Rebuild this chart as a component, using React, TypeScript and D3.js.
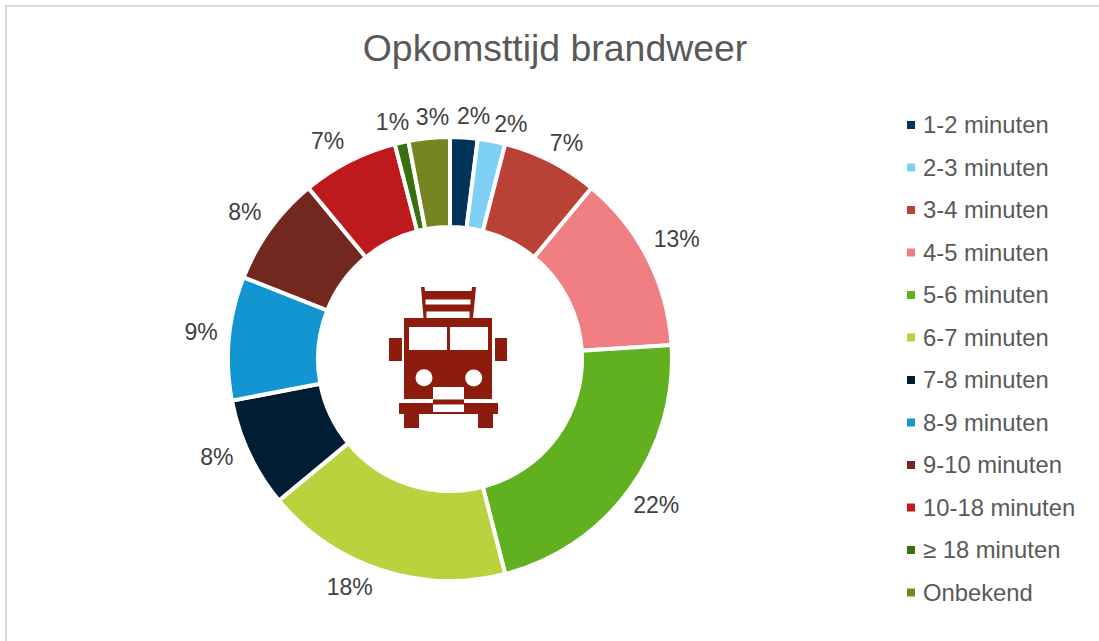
import React from "react";
import * as d3 from "d3";

const title = "Opkomsttijd brandweer";
const categories = ["1-2 minuten","2-3 minuten","3-4 minuten","4-5 minuten","5-6 minuten","6-7 minuten","7-8 minuten","8-9 minuten","9-10 minuten","10-18 minuten","≥ 18 minuten","Onbekend"];
const values = [2,2,7,13,22,18,8,9,8,7,1,3];
const colors = ["#00345A","#7FD0F5","#BA4135","#EF7F83","#60B01F","#BAD23E","#001E33","#1295D0","#72271F","#BE1A1E","#39700F","#768520"];
const labelNudgeX = [8,14,3,4,4,-23,-7,0,-3,-9,-3,6];
const labelNudgeY = [6,11,7,-7,-1,-10,-8,-4,0,5,7,7];

const CX = 450, CY = 359, R = 222, r0 = 132, LR = 250;
const TRUCK = "#8E1C0E";

function Truck() {
  return (
    <g fill={TRUCK}>
      <path d="M421 287L424.5 287L425 291L471.5 291L472 287L476 287L473 318L423.5 318Z" />
      <rect x={425.5} y={299.5} width={45} height={5} fill="#fff" />
      <rect x={426.5} y={311.5} width={43} height={6.5} fill="#fff" />
      <rect x={404} y={318} width={88} height={81} />
      <rect x={409} y={327} width={38} height={23} fill="#fff" />
      <rect x={450} y={327} width={38} height={23} fill="#fff" />
      <rect x={389} y={338} width={13} height={23} />
      <rect x={495} y={338} width={12} height={23} />
      <circle cx={424} cy={377.7} r={8.5} fill="#fff" />
      <circle cx={473.7} cy={378} r={8.5} fill="#fff" />
      <rect x={433} y={387} width={31} height={12.5} fill="#fff" />
      <rect x={399} y={403} width={99} height={11} />
      <rect x={433} y={399.5} width={31} height={4} />
      <rect x={433} y={404.5} width={31} height={7.5} fill="#fff" />
      <rect x={404} y={414} width={15} height={14} />
      <rect x={478} y={414} width={15} height={14} />
    </g>
  );
}

export default function App() {
  const pie = d3.pie<number>().sort(null).value(d => d);
  const arcs = pie(values);
  const arc = d3.arc<d3.PieArcDatum<number>>().innerRadius(r0).outerRadius(R);
  const labelArc = d3.arc<d3.PieArcDatum<number>>().innerRadius(LR).outerRadius(LR);
  const legendY = d3.scalePoint<string>().domain(categories).range([125, 592.5]);
  return (
    <svg width={1099} height={641} style={{ position: "absolute", left: 0, top: 0, background: "#fff" }}
      fontFamily="'Liberation Sans', Arial, sans-serif">
      <path d="M6 641L6 6L1099 6" fill="none" stroke="#D9D9D9" strokeWidth={2} />
      <text x={555} y={61} textAnchor="middle" fontSize={37.4} fill="#595959">{title}</text>
      <g transform={`translate(${CX},${CY})`}>
        {arcs.map((a, i) => (
          <path key={i} d={arc(a) || ""} fill={colors[i]} stroke="#fff" strokeWidth={4} />
        ))}
        {arcs.map((a, i) => {
          const [x, y] = labelArc.centroid(a);
          return (
            <text key={i} x={x + labelNudgeX[i]} y={y + labelNudgeY[i]} dy="0.35em" textAnchor="middle" fontSize={23} fill="#404040">
              {values[i]}%
            </text>
          );
        })}
      </g>
      <Truck />
      {categories.map((c, i) => {
        const y = legendY(c) as number;
        return (
          <g key={c}>
            <rect x={907} y={y - 4} width={8} height={8} fill={colors[i]} />
            <text x={923} y={y} dy="0.35em" fontSize={23.8} fill="#595959">{c}</text>
          </g>
        );
      })}
    </svg>
  );
}
